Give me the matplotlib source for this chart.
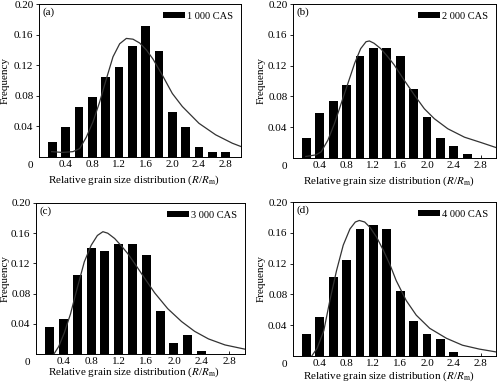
import matplotlib
matplotlib.use("Agg")
import matplotlib.pyplot as plt

plt.rcParams['font.family'] = ['Liberation Serif', 'DejaVu Serif']
plt.rcParams['mathtext.fontset'] = 'stix'

# ---------------- data ----------------
labels = ["1 000 CAS", "2 000 CAS", "3 000 CAS", "4 000 CAS"]
panel_tags = ["(a)", "(b)", "(c)", "(d)"]

bins_a = [0.2, 0.4, 0.6, 0.8, 1.0, 1.2, 1.4, 1.6, 1.8, 2.0, 2.2, 2.4, 2.6, 2.8]
freq_a = [0.019, 0.039, 0.065, 0.079, 0.105, 0.118, 0.145, 0.171, 0.138, 0.059, 0.039, 0.013, 0.006, 0.006]

bins_b = [0.2, 0.4, 0.6, 0.8, 1.0, 1.2, 1.4, 1.6, 1.8, 2.0, 2.2, 2.4, 2.6]
freq_b = [0.026, 0.058, 0.074, 0.095, 0.133, 0.143, 0.143, 0.133, 0.090, 0.053, 0.026, 0.016, 0.005]

bins_c = [0.2, 0.4, 0.6, 0.8, 1.0, 1.2, 1.4, 1.6, 1.8, 2.0, 2.2, 2.4]
freq_c = [0.036, 0.047, 0.104, 0.140, 0.136, 0.146, 0.146, 0.131, 0.057, 0.015, 0.025, 0.004]

bins_d = [0.2, 0.4, 0.6, 0.8, 1.0, 1.2, 1.4, 1.6, 1.8, 2.0, 2.2, 2.4]
freq_d = [0.028, 0.051, 0.102, 0.125, 0.165, 0.170, 0.165, 0.085, 0.045, 0.028, 0.022, 0.005]

fit_x_a = [0.19, 0.35, 0.51, 0.61, 0.71, 0.81, 0.91, 1.01, 1.11, 1.21, 1.31, 1.41, 1.51, 1.61, 1.71,
           1.85, 2.00, 2.15, 2.40, 2.65, 2.90, 3.05]
fit_y_a = [0.007, 0.006, 0.007, 0.011, 0.026, 0.046, 0.072, 0.102, 0.131, 0.148, 0.155, 0.154, 0.149,
           0.140, 0.128, 0.107, 0.083, 0.066, 0.044, 0.029, 0.018, 0.013]

fit_x_b = [0.19, 0.34, 0.42, 0.52, 0.62, 0.72, 0.82, 0.92, 1.01, 1.09, 1.14, 1.21, 1.31, 1.41, 1.51,
           1.66, 1.81, 1.96, 2.11, 2.31, 2.56, 2.81, 3.05]
fit_y_b = [0.002, 0.004, 0.008, 0.023, 0.045, 0.071, 0.097, 0.123, 0.142, 0.151, 0.152, 0.149, 0.142,
           0.132, 0.121, 0.101, 0.082, 0.064, 0.051, 0.038, 0.027, 0.020, 0.013]

fit_x_c = [0.26, 0.33, 0.41, 0.50, 0.60, 0.70, 0.80, 0.89, 0.97, 1.04, 1.14, 1.23, 1.33, 1.43, 1.57,
           1.72, 1.91, 2.11, 2.30, 2.50, 2.74, 3.05]
fit_y_c = [0.000, 0.010, 0.028, 0.053, 0.088, 0.122, 0.144, 0.157, 0.162, 0.160, 0.153, 0.144, 0.133,
           0.120, 0.101, 0.081, 0.060, 0.043, 0.030, 0.020, 0.012, 0.006]

fit_x_d = [0.28, 0.36, 0.46, 0.55, 0.65, 0.75, 0.85, 0.93, 0.99, 1.07, 1.15, 1.25, 1.35, 1.45, 1.54,
           1.69, 1.84, 2.04, 2.29, 2.53, 2.78, 3.05]
fit_y_d = [0.000, 0.010, 0.033, 0.072, 0.111, 0.144, 0.165, 0.174, 0.176, 0.174, 0.167, 0.154, 0.137,
           0.118, 0.098, 0.072, 0.053, 0.036, 0.023, 0.014, 0.009, 0.005]

x_ticks = [0.4, 0.8, 1.2, 1.6, 2.0, 2.4, 2.8]
x_ticklabels = ["0.4", "0.8", "1.2", "1.6", "2.0", "2.4", "2.8"]
y_ticks = [0.04, 0.08, 0.12, 0.16, 0.20]
y_ticklabels = ["0.04", "0.08", "0.12", "0.16", "0.20"]

bins_all = [bins_a, bins_b, bins_c, bins_d]
freq_all = [freq_a, freq_b, freq_c, freq_d]
fitx_all = [fit_x_a, fit_x_b, fit_x_c, fit_x_d]
fity_all = [fit_y_a, fit_y_b, fit_y_c, fit_y_d]

# ---------------- figure ----------------
W, H = 498, 383
fig = plt.figure(figsize=(W / 100, H / 100), dpi=100)
fig.patch.set_facecolor('white')

# pixel boxes: left, top, right, bottom
boxes = [(39, 4, 241, 157), (293, 4, 496, 158), (36, 203, 245, 354), (293, 202, 496, 356)]
ylab_x = [-0.166, -0.159, -0.146, -0.156]
xlab_y = [-0.150, -0.149, -0.124, -0.130]

for i in range(4):
    l, t, r, b = boxes[i]
    ax = fig.add_axes([l / W, (H - b) / H, (r - l) / W, (b - t) / H])
    ax.bar(bins_all[i], freq_all[i], width=0.13, color='black', edgecolor='black',
           linewidth=0, label=labels[i])
    ax.plot(fitx_all[i], fity_all[i], color='#333333', lw=0.9)
    ax.set_xlim(0, 3.03)
    ax.set_ylim(0, 0.20)
    ax.set_xticks(x_ticks)
    ax.set_xticklabels(x_ticklabels)
    ax.set_yticks(y_ticks)
    ax.set_yticklabels(y_ticklabels)
    ax.tick_params(axis='x', direction='in', length=2.5, width=0.6, labelsize=8, pad=2)
    ax.tick_params(axis='y', direction='out', length=2.5, width=0.6, labelsize=8, pad=1.5)
    for s in ax.spines.values():
        s.set_linewidth(0.7)
    ax.text(-0.03, -0.025, "0", transform=ax.transAxes, ha='right', va='top', fontsize=8)
    ax.text(0.015, 0.975, panel_tags[i], transform=ax.transAxes, ha='left', va='top', fontsize=8)
    ax.set_xlabel(r"Relative grain size distribution ($R$/$R_{\rm m}$)", fontsize=8, va='center')
    ax.xaxis.set_label_coords(0.47, xlab_y[i])
    ax.set_ylabel("Frequency", fontsize=8, va='center')
    ax.yaxis.set_label_coords(ylab_x[i], 0.5)
    ax.legend(loc='upper right', frameon=False, fontsize=7.5, handlelength=2.1,
              handleheight=0.6, handletextpad=0.2, borderaxespad=0.35)

fig.savefig("out.png", dpi=100)
